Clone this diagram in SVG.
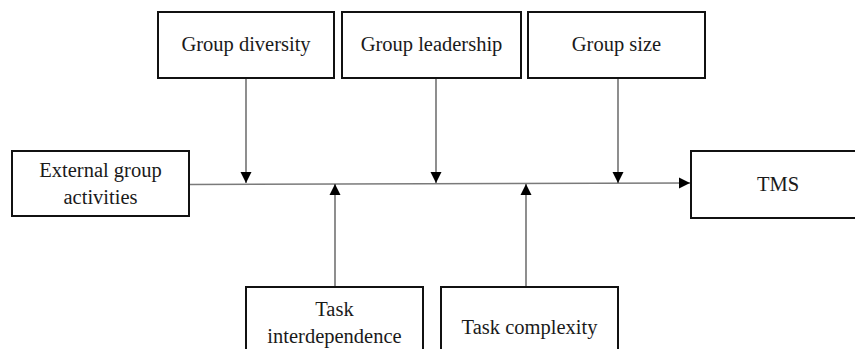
<svg xmlns="http://www.w3.org/2000/svg" width="855" height="349" viewBox="0 0 855 349">
<style>
.box{fill:#fff;stroke:#111;stroke-width:2}
text{font-family:'Liberation Serif','Times New Roman',serif;font-size:20.5px;fill:#1a1a1a;text-anchor:middle}
.c{stroke:#444;stroke-width:1.2;fill:none}
.m{stroke:#7a7a7a;stroke-width:1.6;fill:none}
</style>
<defs>
<marker id="ah" markerWidth="12" markerHeight="12" refX="11" refY="6" orient="auto" markerUnits="userSpaceOnUse">
<path d="M0,0.5 L11,6 L0,11.5 Z" fill="#000"/>
</marker>
</defs>
<rect width="855" height="349" fill="#fff"/>
<g id="connectors">
<path class="m" d="M189,184.5 L690,183" marker-end="url(#ah)"/>
<path class="c" d="M246,78 L246,183" marker-end="url(#ah)"/>
<path class="c" d="M436,78 L436,183" marker-end="url(#ah)"/>
<path class="c" d="M618,78 L618,183" marker-end="url(#ah)"/>
<path class="c" d="M335,287 L335,184" marker-end="url(#ah)"/>
<path class="c" d="M526,287 L526,184" marker-end="url(#ah)"/>
</g>
<g id="group-diversity">
<rect class="box" x="158" y="12" width="176" height="66"/>
<text x="246" y="51">Group diversity</text>
</g>
<g id="group-leadership">
<rect class="box" x="342" y="12" width="179" height="66"/>
<text x="431.5" y="51">Group leadership</text>
</g>
<g id="group-size">
<rect class="box" x="528" y="12" width="177" height="66"/>
<text x="616.5" y="51">Group size</text>
</g>
<g id="external-group-activities">
<rect class="box" x="12" y="151" width="177" height="65"/>
<text x="100.5" y="177">External group</text>
<text x="100.5" y="204">activities</text>
</g>
<g id="tms">
<rect class="box" x="691" y="151" width="177" height="67"/>
<text x="778" y="191">TMS</text>
</g>
<g id="task-interdependence">
<rect class="box" x="246" y="287" width="177" height="70"/>
<text x="334.5" y="316">Task</text>
<text x="334.5" y="343">interdependence</text>
</g>
<g id="task-complexity">
<rect class="box" x="441" y="287" width="177" height="70"/>
<text x="529.5" y="334">Task complexity</text>
</g>
</svg>
